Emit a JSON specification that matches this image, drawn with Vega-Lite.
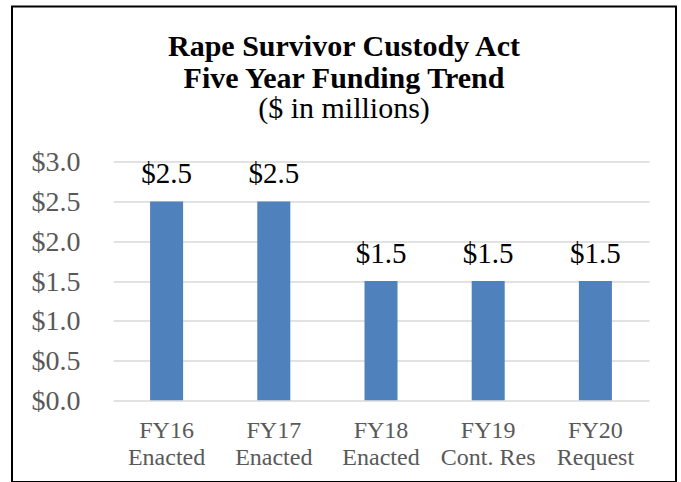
{
  "$schema": "https://vega.github.io/schema/vega-lite/v6.json",
  "autosize": {"type": "none"},
  "padding": {"left": 12, "top": 6.5, "right": 5, "bottom": 0},
  "width": 664,
  "height": 475.5,
  "background": "white",
  "title": {
    "text": ["Rape Survivor Custody Act", "Five Year Funding Trend"],
    "subtitle": "($ in millions)",
    "anchor": "middle",
    "frame": "group",
    "offset": -117,
    "font": "Liberation Serif",
    "fontSize": 30,
    "fontWeight": "bold",
    "color": "black",
    "lineHeight": 32,
    "subtitleFont": "Liberation Serif",
    "subtitleFontSize": 30,
    "subtitleColor": "black",
    "subtitlePadding": 0
  },
  "config": {
    "view": {"stroke": "black", "strokeWidth": 2},
    "axis": {"labelFont": "Liberation Serif", "labelColor": "#595959"}
  },
  "data": {
    "values": [
      {"label": "FY16 Enacted", "amount": 2.5},
      {"label": "FY17 Enacted", "amount": 2.5},
      {"label": "FY18 Enacted", "amount": 1.5},
      {"label": "FY19 Cont. Res", "amount": 1.5},
      {"label": "FY20 Request", "amount": 1.5}
    ]
  },
  "encoding": {
    "x": {
      "field": "label",
      "type": "nominal",
      "sort": null,
      "scale": {"range": [101, 637], "paddingInner": 0.692, "paddingOuter": 0.346},
      "axis": {
        "title": null,
        "domain": false,
        "ticks": false,
        "tickSize": 0,
        "labelAngle": 0,
        "labelFontSize": 24,
        "labelLineHeight": 27,
        "labelBaseline": "top",
        "labelPadding": -63.3,
        "labelExpr": "[slice(datum.label, 0, indexof(datum.label, ' ')), slice(datum.label, indexof(datum.label, ' ') + 1)]"
      }
    },
    "y": {
      "field": "amount",
      "type": "quantitative",
      "scale": {"domain": [-1.0273, 4.9515], "nice": false, "zero": false},
      "axis": {
        "title": null,
        "values": [0, 0.5, 1, 1.5, 2, 2.5, 3],
        "format": "$.1f",
        "domain": false,
        "ticks": false,
        "tickSize": 0,
        "labelFontSize": 28,
        "labelPadding": -68,
        "labelBaseline": "middle",
        "labelOffset": 1,
        "grid": true,
        "gridColor": "#D9D9D9",
        "gridWidth": 1.3
      }
    }
  },
  "layer": [
    {
      "mark": {"type": "bar", "color": "#4F81BD"},
      "encoding": {"y2": {"datum": 0}}
    },
    {
      "mark": {"type": "text", "font": "Liberation Serif", "fontSize": 29, "color": "black", "baseline": "alphabetic", "dy": -18},
      "encoding": {"text": {"field": "amount", "type": "quantitative", "format": "$.1f"}}
    }
  ]
}
